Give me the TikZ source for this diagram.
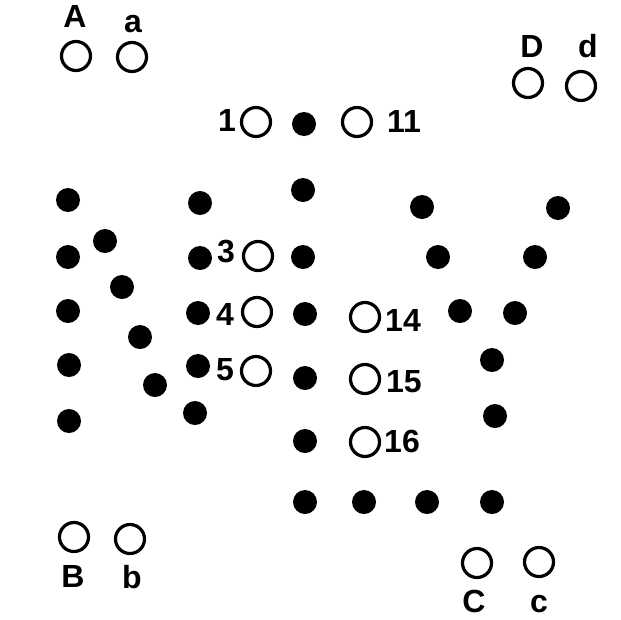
\documentclass[tikz,border=0pt]{standalone}
\usepackage{fontspec}
\setmainfont{Liberation Sans}
\begin{document}
\begin{tikzpicture}[x=1pt,y=-1pt,
  dot/.style={circle,fill=black,inner sep=0pt,minimum size=24pt},
  ring/.style={circle,draw=black,line width=3.2pt,inner sep=0pt,minimum size=29pt},
  lbl/.style={font=\bfseries\fontsize{32}{32}\selectfont,inner sep=0pt,anchor=base}]
\useasboundingbox[fill=white] (0,0) rectangle (621,619);
% open rings
\node[ring] (rA) at (76,56) {};
\node[ring] (ra) at (132,57) {};
\node[ring] (rD) at (528,83) {};
\node[ring] (rd) at (581,86) {};
\node[ring] (r1) at (256,122) {};
\node[ring] (r11) at (357,122) {};
\node[ring] (r3) at (258,256) {};
\node[ring] (r4) at (257,312) {};
\node[ring] (r5) at (256,371) {};
\node[ring] (r14) at (365,317) {};
\node[ring] (r15) at (365,379) {};
\node[ring] (r16) at (365,442) {};
\node[ring] (rB) at (74,537) {};
\node[ring] (rb) at (130,539) {};
\node[ring] (rC) at (477,563) {};
\node[ring] (rc) at (539,562) {};
% labels
\node[lbl] (lA) at (75,27) {A};
\node[lbl] (la) at (133,32) {a};
\node[lbl] (lD) at (532,57) {D};
\node[lbl] (ld) at (588,57) {d};
\node[lbl] (l1) at (227,131) {1};
\node[lbl] (l11) at (404,132) {11};
\node[lbl] (l3) at (226,262) {3};
\node[lbl] (l4) at (225,325) {4};
\node[lbl] (l5) at (225,380) {5};
\node[lbl] (l14) at (403,331) {14};
\node[lbl] (l15) at (404,392) {15};
\node[lbl] (l16) at (402,452) {16};
\node[lbl] (lB) at (73,587) {B};
\node[lbl] (lb) at (132,588) {b};
\node[lbl] (lC) at (474,612) {C};
\node[lbl] (lc) at (539,612) {c};
% left column
\node[dot] (p1) at (68,200) {};
\node[dot] (p2) at (68,257) {};
\node[dot] (p3) at (68,311) {};
\node[dot] (p4) at (69,365) {};
\node[dot] (p5) at (69,421) {};
% diagonal
\node[dot] (q1) at (105,241) {};
\node[dot] (q2) at (122,287) {};
\node[dot] (q3) at (140,337) {};
\node[dot] (q4) at (155,385) {};
\node[dot] (q5) at (195,413) {};
% column near 3,4,5
\node[dot] (s1) at (200,203) {};
\node[dot] (s2) at (200,258) {};
\node[dot] (s3) at (198,313) {};
\node[dot] (s4) at (198,366) {};
% middle column
\node[dot] (m1) at (304,124) {};
\node[dot] (m2) at (303,190) {};
\node[dot] (m3) at (303,257) {};
\node[dot] (m4) at (305,314) {};
\node[dot] (m5) at (305,378) {};
\node[dot] (m6) at (305,441) {};
\node[dot] (m7) at (305,502) {};
% bottom row
\node[dot] (b1) at (364,502) {};
\node[dot] (b2) at (427,502) {};
\node[dot] (b3) at (492,502) {};
% right V
\node[dot] (v1) at (422,207) {};
\node[dot] (v2) at (558,208) {};
\node[dot] (v3) at (438,257) {};
\node[dot] (v4) at (535,257) {};
\node[dot] (v5) at (460,311) {};
\node[dot] (v6) at (515,313) {};
\node[dot] (v7) at (492,360) {};
\node[dot] (v8) at (495,416) {};
\end{tikzpicture}
\end{document}
